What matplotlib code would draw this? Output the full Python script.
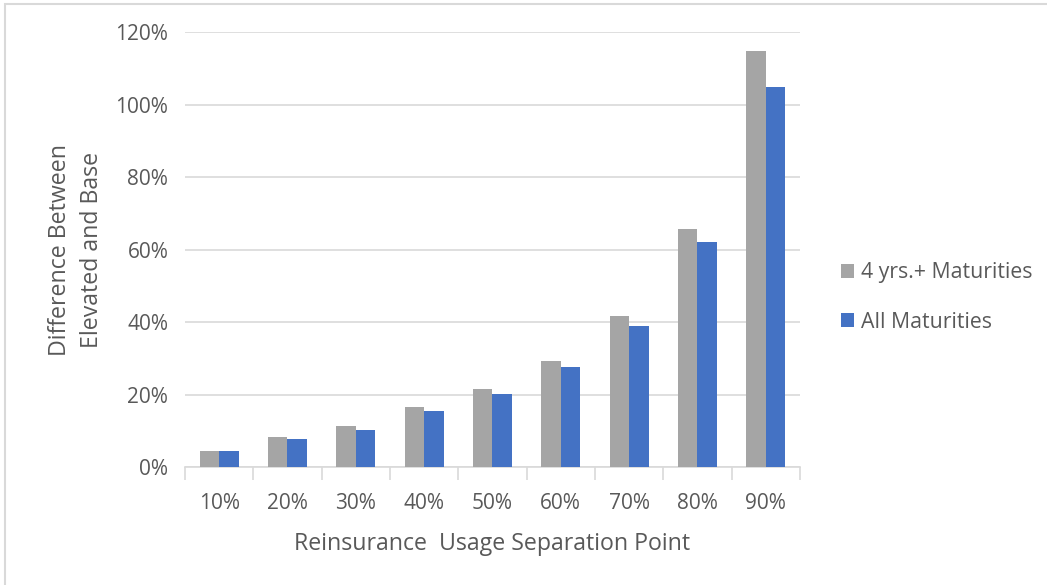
import numpy as np
import matplotlib.pyplot as plt
from matplotlib.patches import Rectangle
from matplotlib.ticker import PercentFormatter

categories = ["10%", "20%", "30%", "40%", "50%", "60%", "70%", "80%", "90%"]
four_yrs_plus = [4.4, 8.3, 11.2, 16.5, 21.5, 29.2, 41.7, 65.6, 114.8]
all_maturities = [4.4, 7.8, 10.3, 15.4, 20.1, 27.5, 38.9, 62.0, 104.9]

GRAY = "#A5A5A5"
BLUE = "#4472C4"
TEXT = "#595959"
GRID = "#D9D9D9"

plt.rcParams["font.family"] = ["Open Sans", "DejaVu Sans"]

fig = plt.figure(figsize=(10.47, 5.85), dpi=100)
ax = fig.add_axes([0.1767, 0.2017, 0.5873, 0.7433])

x = np.arange(len(categories))
w = 0.285
ax.bar(x - w / 2, four_yrs_plus, w, color=GRAY, label="4 yrs.+ Maturities", zorder=3)
ax.bar(x + w / 2, all_maturities, w, color=BLUE, label="All Maturities", zorder=3)

ax.set_xlim(-0.5, len(categories) - 0.5)
ax.set_ylim(0, 120)
ax.set_yticks(np.arange(0, 121, 20))
ax.yaxis.set_major_formatter(PercentFormatter(decimals=0))
ax.set_xticks(x)
ax.set_xticklabels(categories)
ax.set_xticks(np.arange(-0.5, len(categories), 1), minor=True)

ax.grid(axis="y", color=GRID, linewidth=1.2, zorder=0)
for side in ["top", "right", "left"]:
    ax.spines[side].set_visible(False)
ax.spines["bottom"].set_color(GRID)
ax.spines["bottom"].set_linewidth(1.2)

ax.tick_params(axis="y", length=0, pad=12, labelsize=15, labelcolor=TEXT)
ax.tick_params(axis="x", which="major", length=0, pad=19, labelsize=15, labelcolor=TEXT)
ax.tick_params(axis="x", which="minor", length=9, color=GRID, width=1.2)

ax.set_xlabel("Reinsurance  Usage Separation Point", fontsize=16.7, color=TEXT, labelpad=13)
ax.set_ylabel("Difference Between\nElevated and Base", fontsize=16.7, color=TEXT,
              labelpad=8, linespacing=1.45)

ax.legend(loc="center left", bbox_to_anchor=(1.035, 0.39), frameon=False,
          fontsize=15.3, labelcolor=TEXT, handlelength=0.65, handleheight=0.65,
          handletextpad=0.3, labelspacing=1.35)

fig.patches.append(Rectangle((0.005, -0.01), 1.1, 1.003, transform=fig.transFigure,
                             fill=False, edgecolor=GRID, linewidth=1.5))

fig.savefig("out.png", dpi=100)
